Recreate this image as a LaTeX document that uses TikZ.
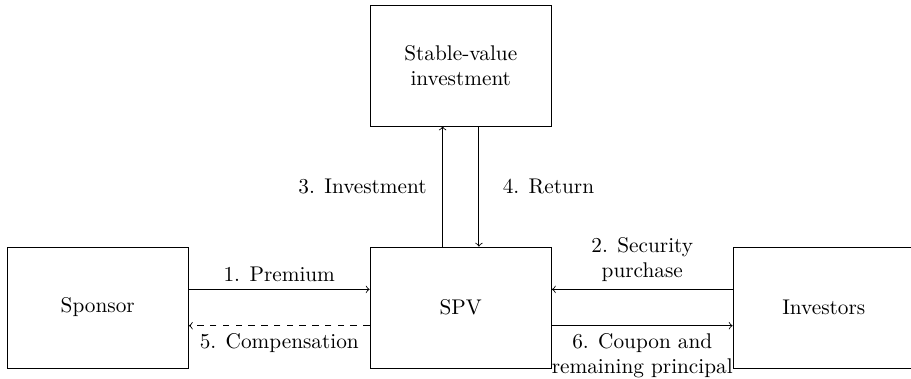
\documentclass[tikz,border=0pt]{standalone}
\usetikzlibrary{positioning}
\begin{document}
\begin{tikzpicture}[
  party/.style={draw, minimum width=3cm, minimum height=2cm, align=center, inner sep=2pt},
  flow/.style={->},
  lbl/.style={align=center}
]
\useasboundingbox (-7.616,-1.165) rectangle (7.442,5.083);

\node[party] (spv) at (0,0) {SPV};
\node[party] (sponsor) at (-6,0) {Sponsor};
\node[party] (investors) at (6,0) {Investors};
\node[party] (stable) at (0,4) {Stable-value\\investment};

% premium and compensation between sponsor and SPV
\draw[flow] ([yshift=0.3cm]sponsor.east) -- node[lbl, above] {1. Premium} ([yshift=0.3cm]spv.west);
\draw[flow, dashed] ([yshift=-0.3cm]spv.west) -- node[lbl, below] {5. Compensation} ([yshift=-0.3cm]sponsor.east);

% security purchase and coupon between investors and SPV
\draw[flow] ([yshift=0.3cm]investors.west) -- node[lbl, above] {2. Security\\purchase} ([yshift=0.3cm]spv.east);
\draw[flow] ([yshift=-0.3cm]spv.east) -- node[lbl, below] {6. Coupon and\\remaining principal} ([yshift=-0.3cm]investors.west);

% investment and return between SPV and the stable-value investment
\draw[flow] ([xshift=-0.3cm]spv.north) -- node[lbl, left=0.14cm] {3. Investment} ([xshift=-0.3cm]stable.south);
\draw[flow] ([xshift=0.3cm]stable.south) -- node[lbl, right=0.27cm] {4. Return} ([xshift=0.3cm]spv.north);
\end{tikzpicture}
\end{document}
